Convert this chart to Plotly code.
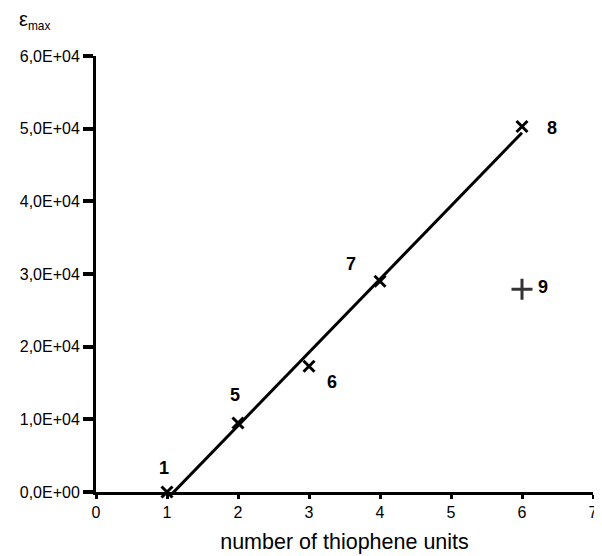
import numpy as np
import plotly.graph_objects as go

# data
units = [1, 2, 3, 4, 6]
eps = [0, 9500, 17300, 29000, 50300]
labels = ["1", "5", "6", "7", "8"]
units9 = [6]
eps9 = [27900]
label9 = ["9"]

ytickvals = [0, 10000, 20000, 30000, 40000, 50000, 60000]
yticktext = ["0,0E+00", "1,0E+04", "2,0E+04", "3,0E+04", "4,0E+04", "5,0E+04", "6,0E+04"]

slope, intercept = np.polyfit(units, eps, 1)
xl = np.array([min(units), max(units)])
yl = slope * xl + intercept

fig = go.Figure()
fig.add_trace(go.Scatter(x=xl, y=yl, mode="lines", line=dict(color="black", width=3), showlegend=False))
fig.add_trace(go.Scatter(x=units, y=eps, mode="markers",
                         marker=dict(symbol="x-thin", size=11, line=dict(color="black", width=3)),
                         showlegend=False, cliponaxis=False))
fig.add_trace(go.Scatter(x=units9, y=eps9, mode="markers",
                         marker=dict(symbol="cross-thin", size=15, line=dict(color="#333333", width=3)),
                         showlegend=False))

offsets = {"1": (-3, 24), "5": (-3, 28), "6": (23, -16), "7": (-29, 17), "8": (30, -2), "9": (21, 2)}
for x, y, t in list(zip(units, eps, labels)) + list(zip(units9, eps9, label9)):
    dx, dy = offsets[t]
    fig.add_annotation(x=x, y=y, text="<b>%s</b>" % t, showarrow=False, xshift=dx, yshift=dy,
                       font=dict(family="Liberation Sans, Arial", size=18, color="black"))

fig.add_annotation(xref="paper", yref="paper", x=(12 - 92) / 506, y=1 + 36 / 436, xanchor="left", yanchor="middle",
                   text="<span style='font-size:20px'>ε</span><sub>max</sub>", showarrow=False,
                   font=dict(family="Liberation Sans, Arial", size=17, color="black"))

fig.update_layout(
    width=602, height=556,
    margin=dict(l=84, r=12, t=48, b=72),
    plot_bgcolor="white", paper_bgcolor="white",
    font=dict(family="Liberation Sans, Arial", color="black"),
    xaxis=dict(range=[0, 7], tickvals=[0, 1, 2, 3, 4, 5, 6, 7], showgrid=False, zeroline=False,
               showline=True, linecolor="black", linewidth=3,
               ticks="outside", ticklen=4, tickwidth=3, tickcolor="black",
               tickfont=dict(size=16),
               title=dict(text="number of thiophene units", font=dict(size=21.5), standoff=14)),
    yaxis=dict(range=[0, 60000], tickvals=ytickvals, ticktext=yticktext, showgrid=False, zeroline=False,
               showline=True, linecolor="black", linewidth=3,
               ticks="outside", ticklen=10, tickwidth=4, tickcolor="black",
               tickfont=dict(size=16)),
)

fig.write_html("out.html")
